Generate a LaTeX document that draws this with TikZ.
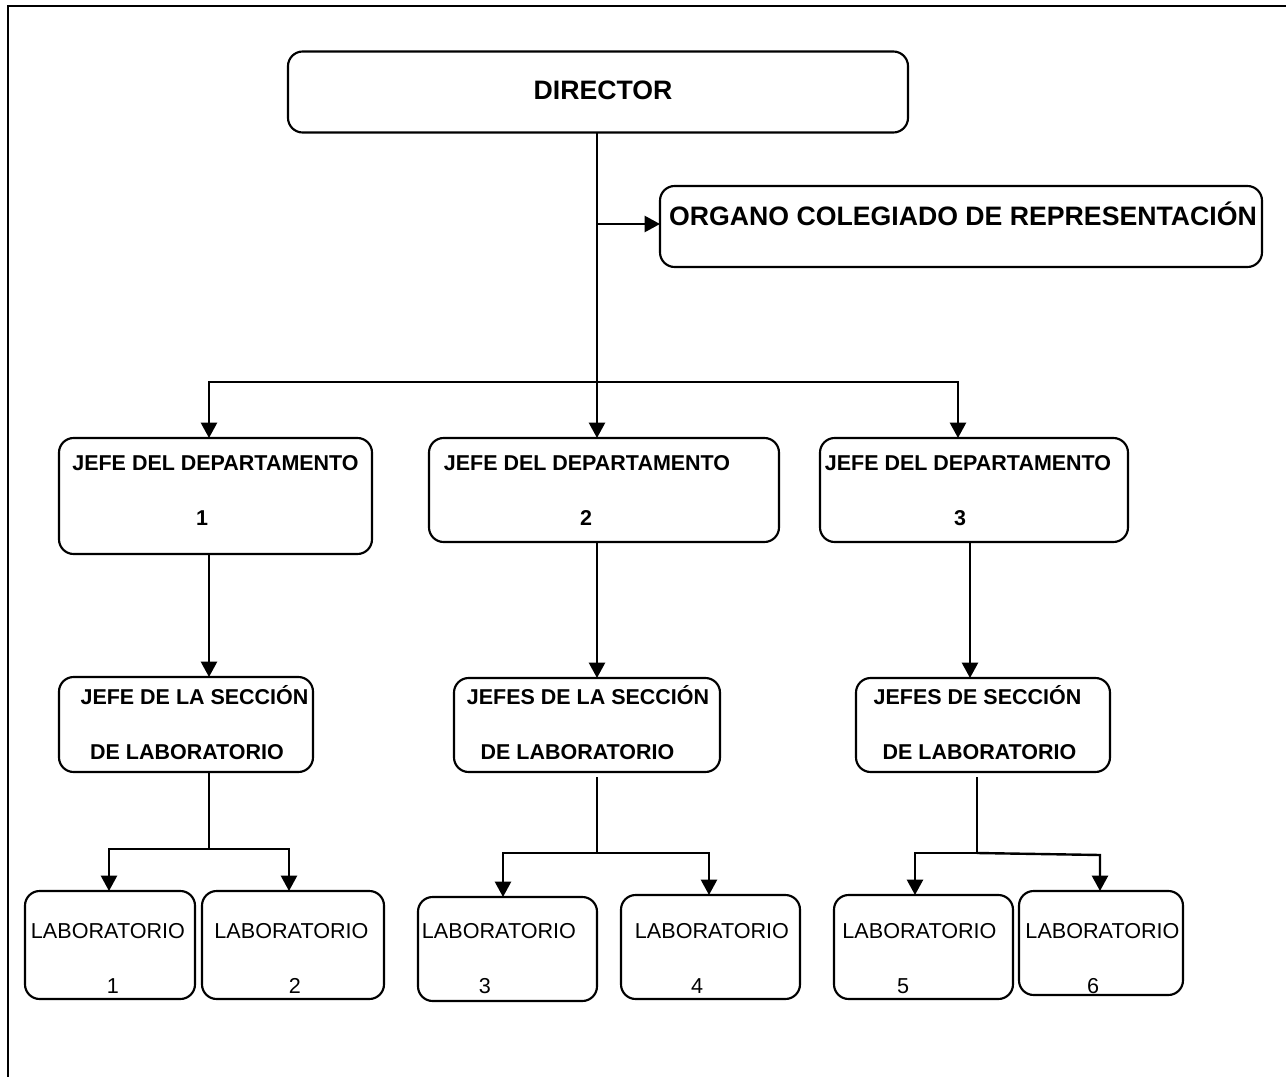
\documentclass[tikz,border=0pt]{standalone}
\usepackage{fontspec}
\setmainfont{Liberation Sans}
\usetikzlibrary{arrows.meta}
\begin{document}
\begin{tikzpicture}[x=0.75pt,y=-0.75pt,
  box/.style={draw, line width=1.6pt, rounded corners=11pt, inner sep=0pt, outer sep=0pt},
  arr/.style={line width=1.8pt, -{Triangle[length=11.5pt,width=12pt]}},
  plain/.style={line width=1.2pt},
  frame/.style={line width=1.8pt},
  big/.style={font=\fontsize{20pt}{24pt}\selectfont\bfseries, inner sep=0pt, anchor=base},
  mid/.style={font=\fontsize{16.1pt}{19pt}\selectfont\bfseries, inner sep=0pt, anchor=base},
  lab/.style={font=\fontsize{16.2pt}{19pt}\selectfont, inner sep=0pt, anchor=base}]
\useasboundingbox (0,0) rectangle (1286,1077);
\draw[frame] (8,1095) -- (8,6) -- (1300,6);

% boxes
\node[box, minimum width=465pt, minimum height=60.75pt] (dir) at (598,92) {};
\node[box, minimum width=451.5pt, minimum height=60.75pt] (org) at (961,226.5) {};
\node[box, minimum width=234.75pt, minimum height=87pt] (d1) at (215.5,496) {};
\node[box, minimum width=262.5pt, minimum height=78pt] (d2) at (604,490) {};
\node[box, minimum width=231pt, minimum height=78pt] (d3) at (974,490) {};
\node[box, minimum width=190.5pt, minimum height=71.25pt] (s1) at (186,724.5) {};
\node[box, minimum width=199.5pt, minimum height=70.5pt] (s2) at (587,725) {};
\node[box, minimum width=190.5pt, minimum height=70.5pt] (s3) at (983,725) {};
\node[box, minimum width=127.5pt, minimum height=81pt] (l1) at (110,945) {};
\node[box, minimum width=136.5pt, minimum height=81pt] (l2) at (293,945) {};
\node[box, minimum width=134.25pt, minimum height=78pt] (l3) at (507.5,949) {};
\node[box, minimum width=134.25pt, minimum height=78pt] (l4) at (710.5,947) {};
\node[box, minimum width=134.25pt, minimum height=78pt] (l5) at (923.5,947) {};
\node[box, minimum width=123pt, minimum height=78pt] (l6) at (1101,943) {};

% texts
\node[big] (tdir) at (603,99.5) {DIRECTOR};
\node[big] (torg) at (963,226) {ORGANO COLEGIADO DE REPRESENTACIÓN};
\node[mid] (td1a) at (215.5,470) {JEFE DEL DEPARTAMENTO};
\node[mid] (td1b) at (202,525) {1};
\node[mid] (td2a) at (587,470) {JEFE DEL DEPARTAMENTO};
\node[mid] (td2b) at (586,525) {2};
\node[mid] (td3a) at (968,470) {JEFE DEL DEPARTAMENTO};
\node[mid] (td3b) at (960,525) {3};
\node[mid] (ts1a) at (194.5,704) {JEFE DE LA SECCIÓN};
\node[mid] (ts1b) at (187,759) {DE LABORATORIO};
\node[mid] (ts2a) at (588,704) {JEFES DE LA SECCIÓN};
\node[mid] (ts2b) at (577.5,759) {DE LABORATORIO};
\node[mid] (ts3a) at (977.5,704) {JEFES DE SECCIÓN};
\node[mid] (ts3b) at (979.5,759) {DE LABORATORIO};
\node[lab] (tl1a) at (108,938) {LABORATORIO};
\node[lab] (tl1b) at (113,993) {1};
\node[lab] (tl2a) at (291.5,938) {LABORATORIO};
\node[lab] (tl2b) at (295,993) {2};
\node[lab] (tl3a) at (499,938) {LABORATORIO};
\node[lab] (tl3b) at (485,993) {3};
\node[lab] (tl4a) at (712,938) {LABORATORIO};
\node[lab] (tl4b) at (697,993) {4};
\node[lab] (tl5a) at (919.5,938) {LABORATORIO};
\node[lab] (tl5b) at (903,993) {5};
\node[lab] (tl6a) at (1102.5,938) {LABORATORIO};
\node[lab] (tl6b) at (1093,993) {6};

% junction coordinates
\coordinate (bus) at (597,382);
\coordinate (busL) at (209,382);
\coordinate (busR) at (958,382);
\coordinate (orgJ) at (597,224);
\coordinate (x3) at (970,600);
\coordinate (j1) at (209,849);
\coordinate (j1a) at (109,849);
\coordinate (j1b) at (289,849);
\coordinate (j2) at (597,853);
\coordinate (j2a) at (503,853);
\coordinate (j2b) at (709,853);
\coordinate (j3) at (977,853);
\coordinate (j3a) at (915,853);
\coordinate (j3b) at (1100,855);

% connectors
\draw[plain] (dir.south -| bus) -- (bus);
\draw[arr] (orgJ) -- (orgJ -| org.west);
\draw[arr] (bus) -- (bus |- d2.north);
\draw[arr] (bus) -- (busL) -- (busL |- d1.north);
\draw[arr] (bus) -- (busR) -- (busR |- d3.north);
\draw[arr] (busL |- d1.south) -- (busL |- s1.north);
\draw[arr] (bus |- d2.south) -- (bus |- s2.north);
\draw[arr] (x3 |- d3.south) -- (x3 |- s3.north);

\draw[plain] (j1 |- s1.south) -- (j1);
\draw[arr] (j1) -- (j1a) -- (j1a |- l1.north);
\draw[arr] (j1) -- (j1b) -- (j1b |- l2.north);
\draw[plain] ([yshift=-4pt]j2 |- s2.south) -- (j2);
\draw[arr] (j2) -- (j2a) -- (j2a |- l3.north);
\draw[arr] (j2) -- (j2b) -- (j2b |- l4.north);
\draw[plain] ([yshift=-4pt]j3 |- s3.south) -- (j3);
\draw[arr] (j3) -- (j3a) -- (j3a |- l5.north);
\draw[arr] (j3) -- (j3b) -- (j3b |- l6.north);
\end{tikzpicture}
\end{document}
